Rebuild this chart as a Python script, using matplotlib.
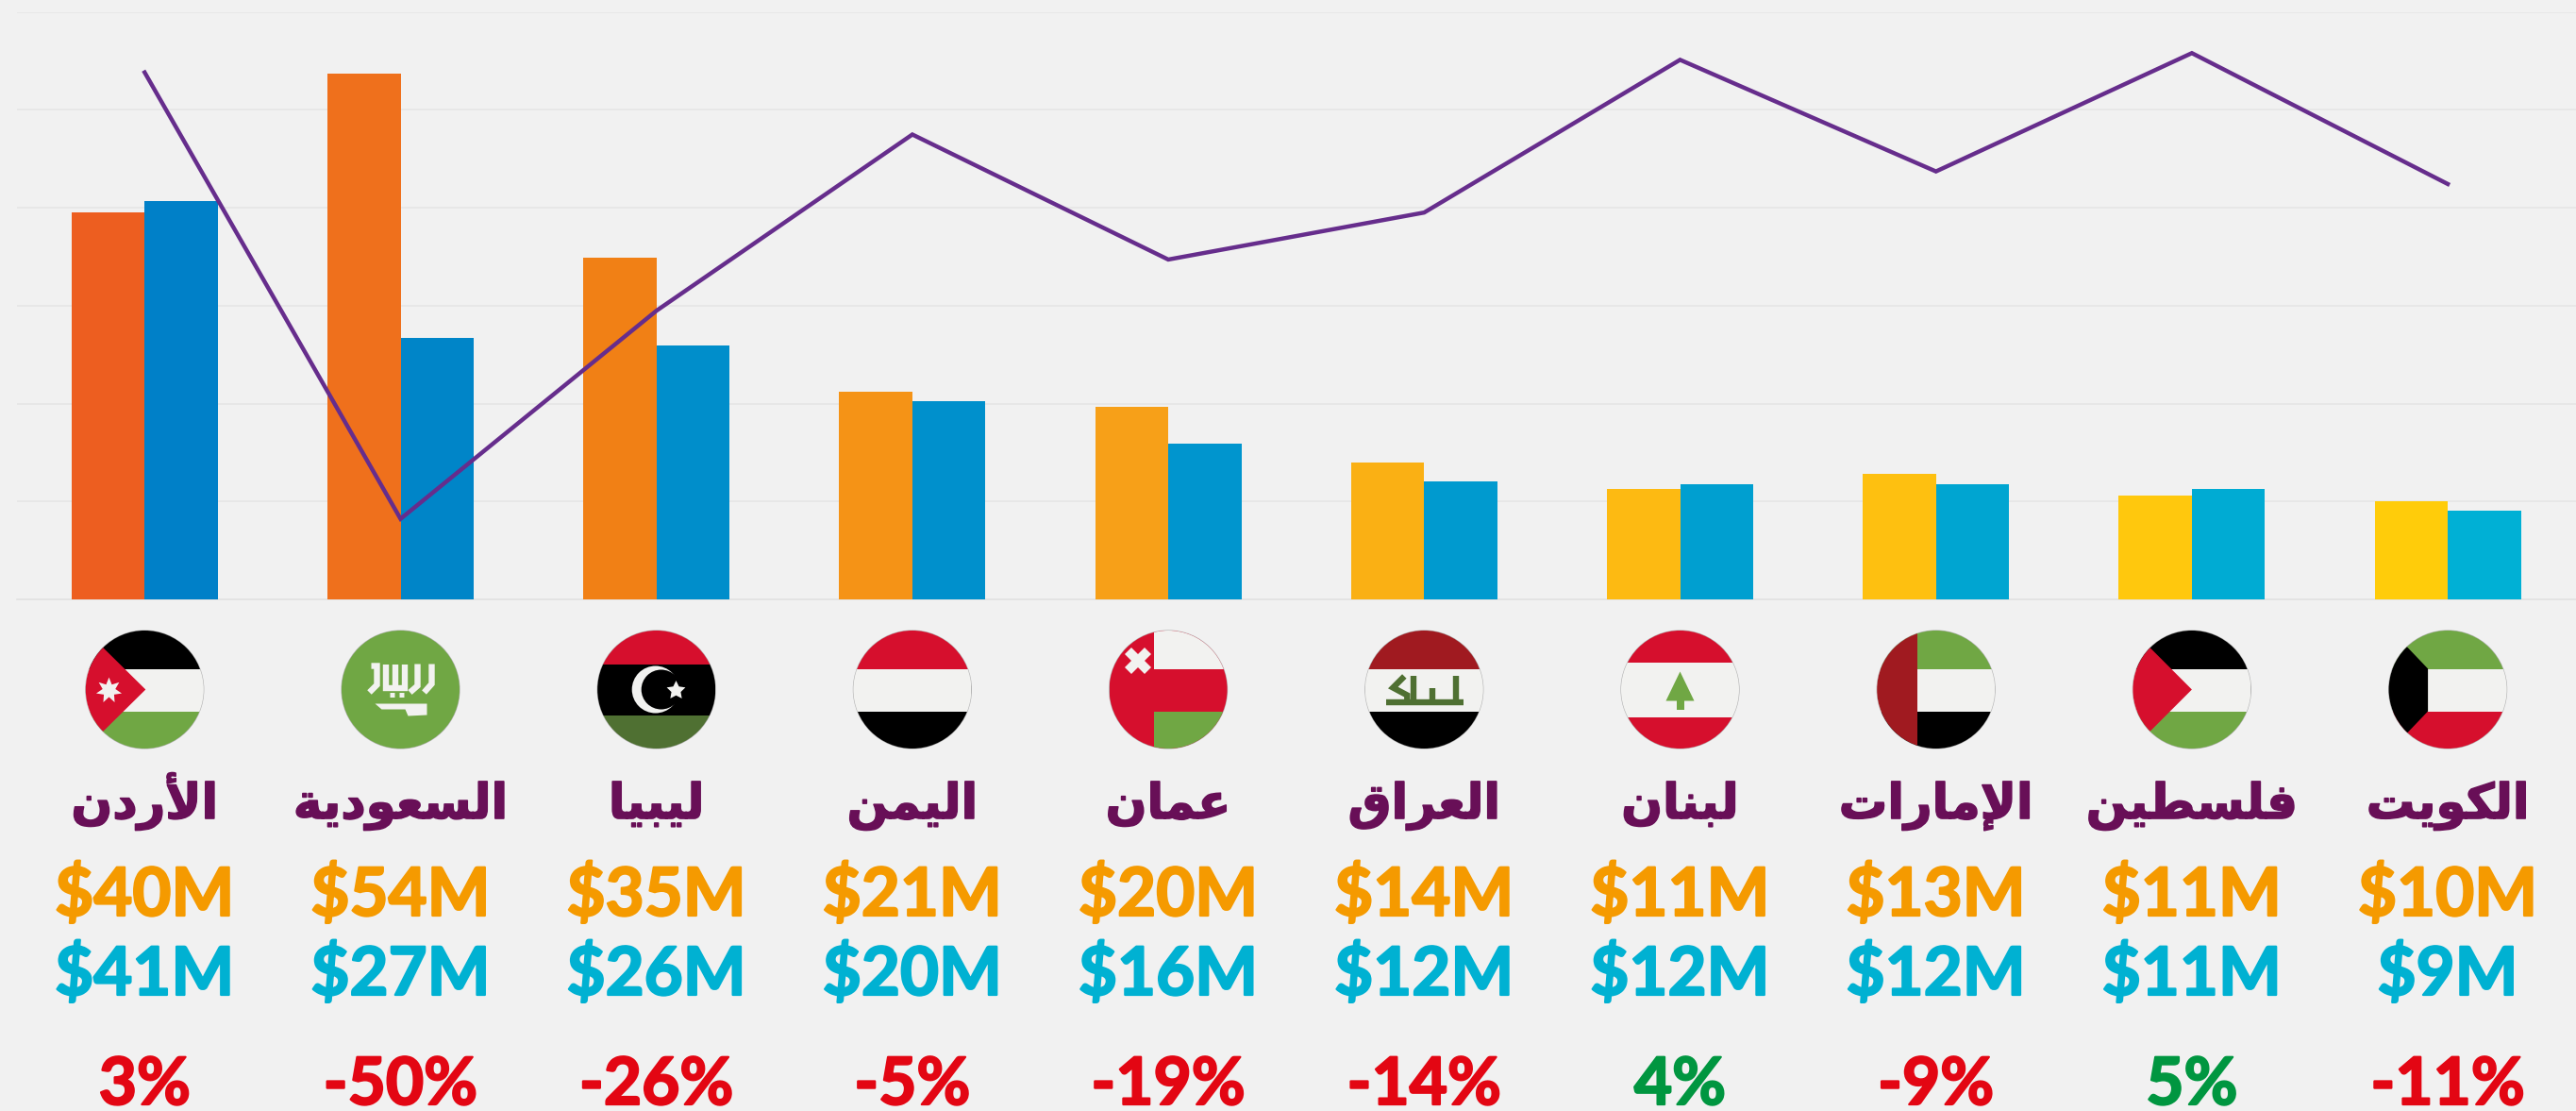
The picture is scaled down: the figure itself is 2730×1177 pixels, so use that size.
#!/usr/bin/env python3
import matplotlib
matplotlib.use("Agg")
import matplotlib.pyplot as plt
import numpy as np
from matplotlib import patheffects
from matplotlib.patches import Circle, Polygon, Rectangle

countries = ["الأردن", "السعودية", "ليبيا", "اليمن", "عمان", "العراق", "لبنان", "الإمارات", "فلسطين", "الكويت"]
flags = ["jordan", "saudi", "libya", "yemen", "oman", "iraq", "lebanon", "uae", "palestine", "kuwait"]
values_a = [39.5, 53.7, 34.9, 21.2, 19.7, 14.0, 11.3, 12.8, 10.6, 10.0]
values_b = [40.7, 26.7, 25.9, 20.2, 15.9, 12.1, 11.8, 11.8, 11.3, 9.1]
change = [2.8, -50.4, -25.6, -4.6, -19.5, -13.9, 4.3, -9.0, 5.1, -10.5]
labels_a = ["$40M", "$54M", "$35M", "$21M", "$20M", "$14M", "$11M", "$13M", "$11M", "$10M"]
labels_b = ["$41M", "$27M", "$26M", "$20M", "$16M", "$12M", "$12M", "$12M", "$11M", "$9M"]
labels_pct = ["3%", "-50%", "-26%", "-5%", "-19%", "-14%", "4%", "-9%", "5%", "-11%"]
pct_up = [False, False, False, False, False, False, True, False, True, False]
colors_a = ["#ED5E20", "#EF701C", "#F18015", "#F59316", "#F7A018", "#FAB014", "#FDBA12", "#FEC010", "#FFC80D", "#FFCC0A"]
colors_b = ["#0080C8", "#0085C8", "#008ECB", "#0090CC", "#0095CE", "#009ACF", "#009FD0", "#00A5D1", "#00ABD3", "#00B0D5"]

BG = "#f1f1f1"
WHITE = "#f2f2f0"
RED = "#d60f2d"
GREEN = "#70a744"
DARK_RED = "#a01a20"
DARK_GREEN = "#4f7032"
BLACK = "#000000"

# isolated, final, initial, medial
FORMS = {
    "ا": (0xFE8D, 0xFE8E), "أ": (0xFE83, 0xFE84), "إ": (0xFE87, 0xFE88),
    "د": (0xFEA9, 0xFEAA), "ر": (0xFEAD, 0xFEAE), "و": (0xFEED, 0xFEEE), "ة": (0xFE93, 0xFE94),
    "ب": (0xFE8F, 0xFE90, 0xFE91, 0xFE92), "ت": (0xFE95, 0xFE96, 0xFE97, 0xFE98),
    "س": (0xFEB1, 0xFEB2, 0xFEB3, 0xFEB4), "ط": (0xFEC1, 0xFEC2, 0xFEC3, 0xFEC4),
    "ع": (0xFEC9, 0xFECA, 0xFECB, 0xFECC), "ف": (0xFED1, 0xFED2, 0xFED3, 0xFED4),
    "ق": (0xFED5, 0xFED6, 0xFED7, 0xFED8), "ك": (0xFED9, 0xFEDA, 0xFEDB, 0xFEDC),
    "ل": (0xFEDD, 0xFEDE, 0xFEDF, 0xFEE0), "م": (0xFEE1, 0xFEE2, 0xFEE3, 0xFEE4),
    "ن": (0xFEE5, 0xFEE6, 0xFEE7, 0xFEE8), "ي": (0xFEF1, 0xFEF2, 0xFEF3, 0xFEF4),
}
LAM_ALEF = {"ا": (0xFEFB, 0xFEFC), "أ": (0xFEF7, 0xFEF8), "إ": (0xFEF9, 0xFEFA)}


def shape_arabic(word):
    """matplotlib has no Arabic shaping, so pick the joined forms and reverse."""
    out = []
    i = 0
    joins = False
    while i < len(word):
        ch = word[i]
        if ch == "ل" and i + 1 < len(word) and word[i + 1] in LAM_ALEF:
            out.append(chr(LAM_ALEF[word[i + 1]][1 if joins else 0]))
            joins = False
            i += 2
            continue
        forms = FORMS[ch]
        next_exists = i + 1 < len(word)
        if len(forms) == 2:
            out.append(chr(forms[1 if joins else 0]))
            joins = False
        elif joins and next_exists:
            out.append(chr(forms[3]))
        elif joins:
            out.append(chr(forms[1]))
            joins = False
        elif next_exists:
            out.append(chr(forms[2]))
            joins = True
        else:
            out.append(chr(forms[0]))
        i += 1
    return "".join(reversed(out))


W, H = 2730, 1177
AX_LEFT, AX_RIGHT = 17.7, 2729.7
AX_TOP, AX_BOTTOM = 12.7, 635
BAND = (AX_RIGHT - AX_LEFT) / len(countries)
R = 62.5
CY = 730.5

plt.rcParams["font.family"] = ["Lato", "DejaVu Sans"]
fig = plt.figure(figsize=(W / 100, H / 100), dpi=100, facecolor=BG)

ax = fig.add_axes([AX_LEFT / W, 1 - AX_BOTTOM / H, (AX_RIGHT - AX_LEFT) / W, (AX_BOTTOM - AX_TOP) / H])
ax.set_facecolor("none")
x = np.arange(len(countries))
width = 0.286
ax.bar(x - width / 2, values_a, width, color=colors_a, zorder=3)
ax.bar(x + width / 2, values_b, width, color=colors_b, zorder=3)
ax.set_xlim(-0.5, len(countries) - 0.5)
ax.set_ylim(0, 60)
ax.set_yticks(np.arange(0, 70, 10))
ax.yaxis.grid(True, color="#e5e5e5", linewidth=1.2, zorder=0)
ax.set_axisbelow(True)
for name, spine in ax.spines.items():
    spine.set_visible(name == "bottom")
    spine.set_color("#e2e2e2")
    spine.set_linewidth(1.2)

ax2 = ax.twinx()
ax2.plot(x, change, color="#662d8c", linewidth=3.2, solid_joinstyle="miter", zorder=5)
ax2.set_ylim(-60, 10)
ax2.axis("off")
# twinx turns the left ticks back on, so this has to come after it
ax.tick_params(left=False, bottom=False, labelleft=False, labelbottom=False)

# pixel coordinates for the flags and the labels under the chart
ov = fig.add_axes([0, 0, 1, 1])
ov.set_xlim(0, W)
ov.set_ylim(H, 0)
ov.axis("off")
ov.patch.set_alpha(0)


def draw_flag(kind, cx):
    ov.add_patch(Circle((cx, CY), R + 0.6, facecolor="#b4b4b4", edgecolor="none"))
    clip = Circle((cx, CY), R, transform=ov.transData)
    top, mid_a, mid_b, bottom = CY - R, CY - 22, CY + 23, CY + R
    left, right = cx - R, cx + R

    def rect(x0, y0, x1, y1, color):
        p = Rectangle((x0, y0), x1 - x0, y1 - y0, facecolor=color, edgecolor="none")
        ov.add_patch(p)
        p.set_clip_path(clip)

    def poly(points, color):
        p = Polygon([(cx + a, CY + b) for a, b in points], facecolor=color, edgecolor="none")
        ov.add_patch(p)
        p.set_clip_path(clip)

    def stripes(a, b, c):
        rect(left, top, right, mid_a, a)
        rect(left, mid_a, right, mid_b, b)
        rect(left, mid_b, right, bottom, c)

    def strokes(paths, color, lw):
        for path in paths:
            xs = [cx + p[0] for p in path]
            ys = [CY + p[1] for p in path]
            ov.plot(xs, ys, color=color, linewidth=lw, solid_capstyle="butt", solid_joinstyle="miter")

    if kind == "jordan":
        stripes(BLACK, WHITE, GREEN)
        poly([(-66, -66), (1, 0), (-66, 66)], RED)
        ov.plot(cx - 38, CY, marker=(7, 1, 0), color=WHITE, markersize=20, markeredgewidth=0)
    elif kind == "saudi":
        rect(left, top, right, bottom, GREEN)
        strokes([[(-31, -25), (-25, -25), (-25, -5), (-33, 3)],
                 [(-15, -27), (-15, -2), (5, -2), (5, -27)],
                 [(-5, -27), (-5, -2)],
                 [(18, -27), (18, -4), (10, 3)],
                 [(33, -27), (33, -6), (25, 3)]], WHITE, 4.6)
        strokes([[(-11, 5), (-6, 5)], [(-1, 5), (4, 5)]], WHITE, 3.6)
        poly([(-27, 15), (28, 15), (28, 27), (8, 28), (5, 21), (-20, 21)], WHITE)
    elif kind == "libya":
        rect(left, top, right, CY - 26.5, RED)
        rect(left, CY - 26.5, right, CY + 27.5, BLACK)
        rect(left, CY + 27.5, right, bottom, DARK_GREEN)
        ov.add_patch(Circle((cx - 1, CY), 25, facecolor=WHITE, edgecolor="none"))
        ov.add_patch(Circle((cx + 5, CY), 21, facecolor=BLACK, edgecolor="none"))
        ov.plot(cx + 20, CY, marker=(5, 1, 0), color=WHITE, markersize=15, markeredgewidth=0)
    elif kind == "yemen":
        stripes(RED, WHITE, BLACK)
    elif kind == "oman":
        rect(left, top, right, bottom, RED)
        rect(cx - 15, top, right, mid_a, WHITE)
        rect(cx - 15, mid_b, right, bottom, GREEN)
        ov.plot(cx - 32, CY - 31, marker="X", color=WHITE, markersize=20, markeredgewidth=0)
    elif kind == "iraq":
        stripes(DARK_RED, WHITE, BLACK)
        strokes([[(-40, 13), (42, 13)],
                 [(-21, -14), (-33, -2), (-18, 6), (-18, 13)],
                 [(-11, -15), (-11, 13)],
                 [(9, -2), (9, 13)],
                 [(34, -15), (34, 13)]], DARK_GREEN, 4.6)
    elif kind == "lebanon":
        rect(left, top, right, CY - 28.5, RED)
        rect(left, CY - 28.5, right, CY + 29, WHITE)
        rect(left, CY + 29, right, bottom, RED)
        poly([(0, -19), (15, 12), (-15, 12)], GREEN)
        rect(cx - 4, CY + 10, cx + 4, CY + 21, GREEN)
    elif kind == "uae":
        stripes(GREEN, WHITE, BLACK)
        rect(left, top, cx - 20, bottom, DARK_RED)
    elif kind == "palestine":
        stripes(BLACK, WHITE, GREEN)
        poly([(-66, -66), (0, 0), (-66, 66)], RED)
    elif kind == "kuwait":
        stripes(GREEN, WHITE, RED)
        poly([(-66, -66), (-42, -44), (-21, -22), (-21, 23), (-42, 45), (-66, 66)], BLACK)


def bold_label(px, py, text, color, size):
    # Lato Bold alone is lighter than the reference lettering
    t = ov.text(px, py, text, ha="center", va="baseline", fontsize=size, fontweight="bold", color=color)
    t.set_path_effects([patheffects.withStroke(linewidth=1.6, foreground=color)])


for i in range(len(countries)):
    cx = AX_LEFT + (i + 0.5) * BAND
    draw_flag(flags[i], cx)
    name = ov.text(cx, 867, shape_arabic(countries[i]), ha="center", va="baseline", fontsize=37, fontweight="bold",
                   family=["DejaVu Sans"], color="#680f57")
    name.set_path_effects([patheffects.withStroke(linewidth=1.2, foreground="#680f57")])
    bold_label(cx, 970, labels_a[i], "#f59a00", 51)
    bold_label(cx, 1054, labels_b[i], "#00b1d2", 51)
    bold_label(cx, 1170, labels_pct[i], "#009640" if pct_up[i] else "#e30613", 50)

fig.savefig("out.png", dpi=100, facecolor=BG)
plt.close(fig)
